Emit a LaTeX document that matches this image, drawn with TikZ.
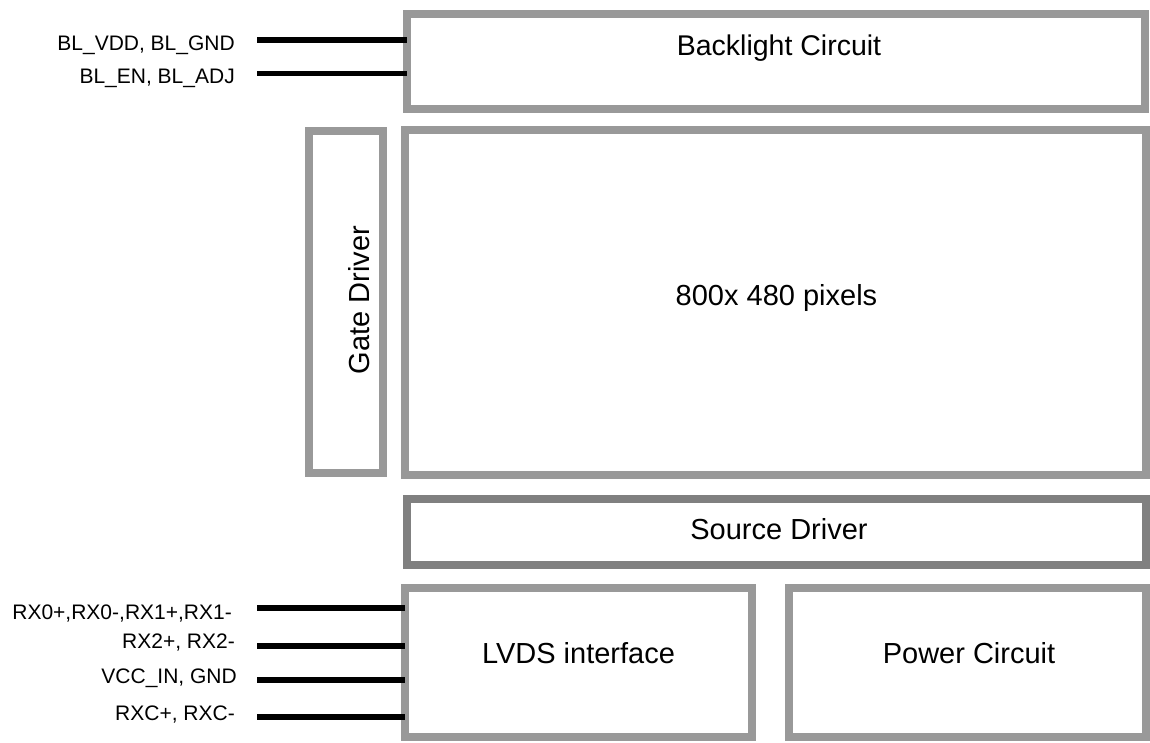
\documentclass[tikz,border=0pt]{standalone}
\usepackage{fontspec}
\setmainfont{Liberation Sans}
\definecolor{boxgray}{RGB}{153,153,153}
\definecolor{srcgray}{RGB}{128,128,128}
\tikzset{
  blockbox/.style={draw=boxgray, line width=7.5pt, inner sep=0pt, outer sep=0pt, fill=white},
  srcbox/.style={blockbox, draw=srcgray},
  bigtext/.style={inner sep=0pt, anchor=base, font=\fontsize{29}{34}\selectfont},
  sidetext/.style={inner sep=0pt, anchor=base east, font=\fontsize{21}{25}\selectfont},
  wire/.style={line width=5.5pt, black}
}
\begin{document}
\begin{tikzpicture}[x=1pt, y=-1pt]
\useasboundingbox (0,0) rectangle (1150,742);
% boxes (centre line of border)
\node[blockbox, minimum width=738pt, minimum height=95pt] (bl) at (776,61.5) {};
\node[blockbox, minimum width=74pt, minimum height=342pt] (gate) at (346,302) {};
\node[blockbox, minimum width=741pt, minimum height=345pt] (pix) at (775.5,302.5) {};
\node[srcbox, minimum width=739pt, minimum height=66pt] (src) at (776.5,532) {};
\node[blockbox, minimum width=347pt, minimum height=149pt] (lvds) at (578.5,662.5) {};
\node[blockbox, minimum width=357pt, minimum height=149pt] (pwr) at (967.5,662.5) {};
% texts
\node[bigtext, font=\fontsize{28.5}{34}\selectfont] (blt) at (779,55) {Backlight Circuit};
\node[bigtext, rotate=90] (gatet) at (369,300) {Gate Driver};
\node[bigtext] (pixt) at (776.5,305) {800x 480 pixels};
\node[bigtext] (srct) at (779,539) {Source Driver};
\node[bigtext] (lvdst) at (578.5,663) {LVDS interface};
\node[bigtext] (pwrt) at (969,663) {Power Circuit};
% side labels
\node[sidetext] (l1) at (235,50) {BL\_VDD, BL\_GND};
\node[sidetext] (l2) at (235,83) {BL\_EN, BL\_ADJ};
\node[sidetext] (l3) at (232,619) {RX0+,RX0-,RX1+,RX1-};
\node[sidetext] (l4) at (235,648) {RX2+, RX2-};
\node[sidetext] (l5) at (237,683) {VCC\_IN, GND};
\node[sidetext] (l6) at (235,720) {RXC+, RXC-};
% wire start points
\coordinate (w1) at (257,40);
\coordinate (w2) at (257,73.5);
\coordinate (w3) at (257,608);
\coordinate (w4) at (257,646);
\coordinate (w5) at (257,680);
\coordinate (w6) at (257,717);
\draw[wire] (w1) -- (w1 -| bl.west);
\draw[wire] (w2) -- (w2 -| bl.west);
\draw[wire] (w3) -- (w3 -| lvds.west);
\draw[wire] (w4) -- (w4 -| lvds.west);
\draw[wire] (w5) -- (w5 -| lvds.west);
\draw[wire] (w6) -- (w6 -| lvds.west);
\end{tikzpicture}
\end{document}
